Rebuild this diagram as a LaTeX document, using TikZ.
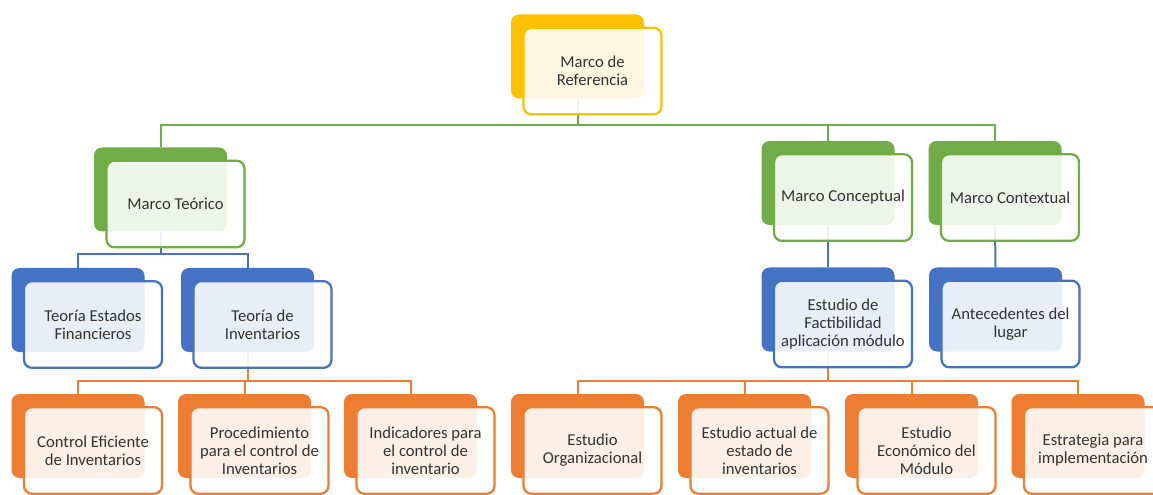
\documentclass[tikz,border=0pt]{standalone}
\usepackage{fontspec}
\setmainfont{Carlito}
\usepackage{tikz}
\usetikzlibrary{calc}
\definecolor{mgold}{HTML}{FFC000}
\definecolor{mgreen}{HTML}{70AD47}
\definecolor{mblue}{HTML}{4472C4}
\definecolor{morange}{HTML}{ED7D31}
\definecolor{mtext}{HTML}{333333}
\tikzset{
  cback/.style={fill=#1, rounded corners=6pt, inner sep=0pt,
                minimum width=99.75pt, minimum height=63pt},
  cfront/.style={draw=#1, line width=1.7pt, fill=white, fill opacity=0.88,
                 text opacity=1, rounded corners=6pt, inner sep=1pt,
                 minimum width=103.5pt, minimum height=65pt, align=center,
                 text=mtext, font=\fontsize{12.5}{13.5}\selectfont},
  cline/.style={draw=#1, line width=1.5pt},
  fr/.style={shift={(15,14.5)}},
}

\begin{document}
\begin{tikzpicture}[x=0.75pt, y=-0.75pt]
\useasboundingbox (0,0) rectangle (1153,495);
% back cards
\node[cback=mgold] (refb) at (577.5,56.5) {};
\node[cback=mgreen] (teob) at (160.5,189.5) {};
\node[cback=mgreen] (conb) at (828,183) {};
\node[cback=mgreen] (ctxb) at (995,183) {};
\node[cback=mblue] (tefb) at (78,310) {};
\node[cback=mblue] (tinb) at (247.5,310) {};
\node[cback=mblue] (facb) at (828,309.5) {};
\node[cback=mblue] (antb) at (995.5,309.5) {};
\node[cback=morange] (ctlb) at (78,436) {};
\node[cback=morange] (prob) at (244.5,436) {};
\node[cback=morange] (indb) at (410.5,436) {};
\node[cback=morange] (orgb) at (577.5,436) {};
\node[cback=morange] (actb) at (744.5,436) {};
\node[cback=morange] (ecob) at (911.5,436) {};
\node[cback=morange] (estb) at (1078,436) {};
% connectors
\coordinate (gbus) at (0,125);
\coordinate (bbus) at (0,254);
\coordinate (obus) at (0,381);
\draw[cline=mgreen] (teob.north) |- (refb.south |- gbus) -| (ctxb.north);
\draw[cline=mgreen] (refb.south) -- (refb.south |- gbus);
\draw[cline=mgreen] (conb.north) -- (conb.north |- gbus);
\draw[cline=mblue] (tefb.north) |- (teob.south |- bbus) -| (tinb.north);
\draw[cline=mblue] (teob.south) -- (teob.south |- bbus);
\draw[cline=mblue] (conb.south) -- (facb.north);
\draw[cline=mblue] (ctxb.south) -- (antb.north);
\draw[cline=morange] (ctlb.north) |- (tinb.south |- obus) -| (indb.north);
\draw[cline=morange] (tinb.south) -- (tinb.south |- obus) -| (prob.north);
\draw[cline=morange] (orgb.north) |- (facb.south |- obus) -| (estb.north);
\draw[cline=morange] (facb.south) -- (facb.south |- obus);
\draw[cline=morange] (actb.north) -- (actb.north |- obus);
\draw[cline=morange] (ecob.north) -- (ecob.north |- obus);
% front cards
\node[cfront=mgold] (ref) at ([fr]refb.center) {Marco de\\Referencia};
\node[cfront=mgreen] (teo) at ([fr]teob.center) {Marco Teórico};
\node[cfront=mgreen] (con) at ([fr]conb.center) {Marco Conceptual};
\node[cfront=mgreen] (ctx) at ([fr]ctxb.center) {Marco Contextual};
\node[cfront=mblue] (tef) at ([fr]tefb.center) {Teoría Estados\\Financieros};
\node[cfront=mblue] (tin) at ([fr]tinb.center) {Teoría de\\Inventarios};
\node[cfront=mblue] (fac) at ([fr]facb.center) {Estudio de\\Factibilidad\\aplicación módulo};
\node[cfront=mblue] (ant) at ([fr]antb.center) {Antecedentes del\\lugar};
\node[cfront=morange] (ctl) at ([fr]ctlb.center) {Control Eficiente\\de Inventarios};
\node[cfront=morange] (pro) at ([fr]prob.center) {Procedimiento\\para el control de\\Inventarios};
\node[cfront=morange] (ind) at ([fr]indb.center) {Indicadores para\\el control de\\inventario};
\node[cfront=morange] (org) at ([fr]orgb.center) {Estudio\\Organizacional};
\node[cfront=morange] (act) at ([fr]actb.center) {Estudio actual de\\estado de\\inventarios};
\node[cfront=morange] (eco) at ([fr]ecob.center) {Estudio\\Económico del\\Módulo};
\node[cfront=morange] (est) at ([fr]estb.center) {Estrategia para\\implementación};
\end{tikzpicture}
\end{document}
